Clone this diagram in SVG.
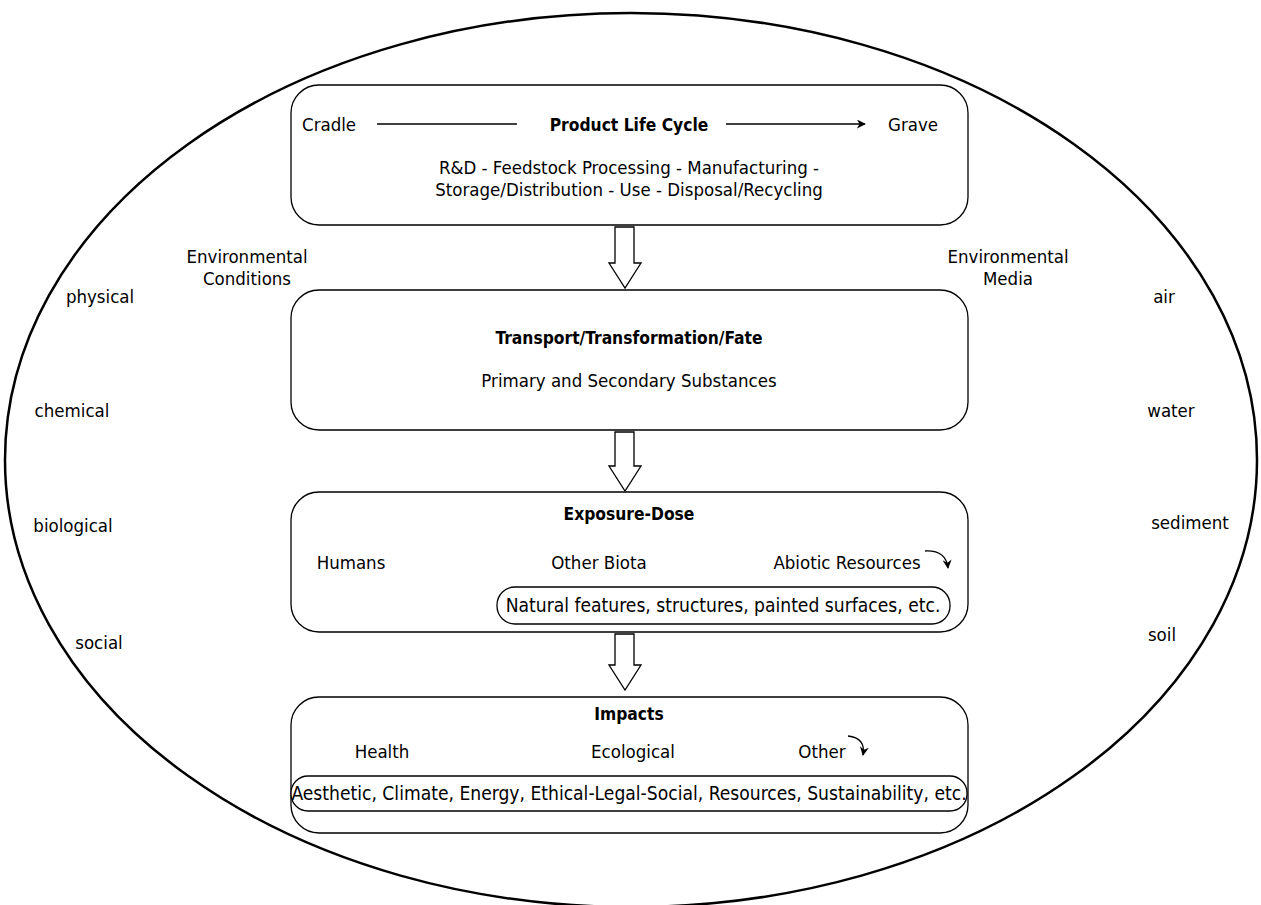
<svg xmlns="http://www.w3.org/2000/svg" width="1261" height="905" viewBox="0 0 1261 905">
<style>
text{font-family:"DejaVu Sans Condensed","DejaVu Sans",sans-serif;font-stretch:condensed;font-size:18.5px;fill:#000}
.b{font-weight:bold;font-size:17.3px}
.p{font-size:19.1px}
.m{text-anchor:middle}
.box{fill:#fff;stroke:#000;stroke-width:1.3}
.big{fill:#fff;stroke:#000;stroke-width:1.3}
.ln{fill:none;stroke:#000;stroke-width:1.3}
</style>
<defs>
<marker id="ah" viewBox="0 0 10 10" refX="9" refY="5" markerWidth="9" markerHeight="9" markerUnits="userSpaceOnUse" orient="auto"><path d="M0,0 L10,5 L0,10 L3,5 Z" fill="#000"/></marker>
</defs>
<rect width="1261" height="905" fill="#fff"/>
<ellipse id="outer" cx="631" cy="460" rx="626" ry="447" fill="none" stroke="#000" stroke-width="2.5"/>
<g id="side-labels">
<text class="m" x="247" y="263">Environmental</text>
<text class="m" x="247" y="285">Conditions</text>
<text class="m" x="1008" y="263">Environmental</text>
<text class="m" x="1008" y="285">Media</text>
<text class="m" x="100" y="303">physical</text>
<text class="m" x="72" y="417">chemical</text>
<text class="m" x="73" y="532">biological</text>
<text class="m" x="99" y="649">social</text>
<text class="m" x="1164" y="303">air</text>
<text class="m" x="1171" y="417">water</text>
<text class="m" x="1190" y="529">sediment</text>
<text class="m" x="1162" y="641">soil</text>
</g>
<g id="connectors">
<path class="big" d="M615,227 H634 V263 H641 L625,288 L609,263 H615 Z"/>
<path class="big" d="M615,432 H634 V466 H641 L625,491 L609,466 H615 Z"/>
<path class="big" d="M615,634 H634 V665 H641 L625,690 L609,665 H615 Z"/>
</g>
<g id="life-cycle">
<rect class="box" x="291" y="85" width="677" height="140" rx="28"/>
<text x="302" y="131">Cradle</text>
<line class="ln" x1="377" y1="124" x2="517" y2="124"/>
<text class="m b" x="629" y="131">Product Life Cycle</text>
<line class="ln" x1="726" y1="124" x2="865" y2="124" marker-end="url(#ah)"/>
<text x="888" y="131">Grave</text>
<text class="m" x="629" y="174">R&amp;D - Feedstock Processing - Manufacturing -</text>
<text class="m" x="629" y="196">Storage/Distribution - Use - Disposal/Recycling</text>
</g>
<g id="transport">
<rect class="box" x="291" y="290" width="677" height="140" rx="28"/>
<text class="m b" x="629" y="344">Transport/Transformation/Fate</text>
<text class="m" x="629" y="387">Primary and Secondary Substances</text>
</g>
<g id="exposure">
<rect class="box" x="291" y="492" width="677" height="140" rx="28"/>
<text class="m b" x="629" y="520">Exposure-Dose</text>
<text class="m" x="351" y="569">Humans</text>
<text class="m" x="599" y="569">Other Biota</text>
<text class="m" x="847" y="569">Abiotic Resources</text>
<path class="ln" d="M925,551 Q946,550 948,568" marker-end="url(#ah)"/>
<rect class="box" x="497" y="587" width="453" height="37" rx="18"/>
<text class="m p" x="723" y="612">Natural features, structures, painted surfaces, etc.</text>
</g>
<g id="impacts">
<rect class="box" x="291" y="697" width="677" height="136" rx="28"/>
<text class="m b" x="629" y="720">Impacts</text>
<text class="m" x="382" y="758">Health</text>
<text class="m" x="633" y="758">Ecological</text>
<text class="m" x="822" y="758">Other</text>
<path class="ln" d="M848,736 Q866,738 863,755" marker-end="url(#ah)"/>
<rect class="box" x="291" y="776" width="676" height="35" rx="17"/>
<text class="m p" x="629" y="800">Aesthetic, Climate, Energy, Ethical-Legal-Social, Resources, Sustainability, etc.</text>
</g>
</svg>
